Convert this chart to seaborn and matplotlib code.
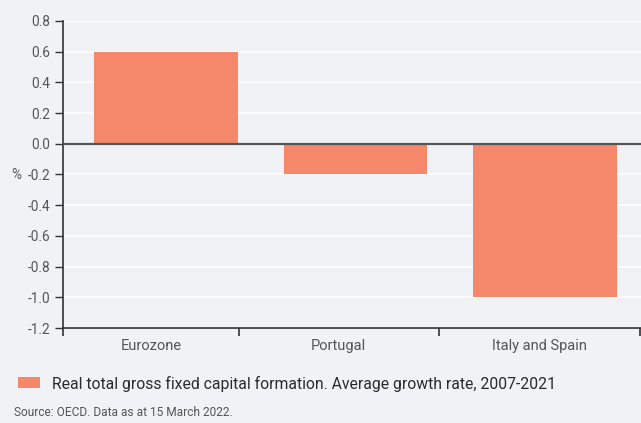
import matplotlib
matplotlib.use("Agg")
import matplotlib.pyplot as plt
import seaborn as sns
import pandas as pd

categories = ["Eurozone", "Portugal", "Italy and Spain"]
growth = [0.6, -0.2, -1.0]
y_ticks = [0.8, 0.6, 0.4, 0.2, 0.0, -0.2, -0.4, -0.6, -0.8, -1.0, -1.2]
series_label = "Real total gross fixed capital formation. Average growth rate, 2007-2021"
source_text = "Source: OECD. Data as at 15 March 2022."

BG = "#f0f2f5"
BAR = "#f5876a"
INK = "#333333"
TXT = "#555555"

sns.set_theme(style="white")
plt.rcParams["font.family"] = ["Roboto", "DejaVu Sans"]

df = pd.DataFrame({"region": categories, "value": growth})

fig = plt.figure(figsize=(6.41, 4.23), dpi=100, facecolor=BG)
ax = fig.add_axes([63 / 641, 95 / 423, 578 / 641, 307 / 423], facecolor=BG)

sns.barplot(data=df, x="region", y="value", color=BAR, width=0.76,
            saturation=1, linewidth=0, edgecolor=BAR, ax=ax, zorder=3)

ax.set_ylim(-1.2, 0.8)
ax.set_xlim(-0.544, 2.507)
ax.set_yticks(y_ticks)
ax.set_yticklabels([f"{v:.1f}" for v in y_ticks], fontsize=9.8, color=TXT)
ax.yaxis.grid(True, color="white", linewidth=1.2, zorder=0)
ax.set_axisbelow(True)
ax.tick_params(axis="y", length=6, width=1, color=INK, pad=3, left=True)

# category labels centred in their bands, separator ticks between bands
ax.set_xticks([-0.08, 0.91, 1.97])
ax.set_xticklabels(categories, fontsize=10.5, color=TXT)
ax.tick_params(axis="x", length=0, pad=8)
ax.set_xticks([-0.544, 0.385, 1.44, 2.5], minor=True)
ax.tick_params(axis="x", which="minor", length=6, width=1.2, color=INK, bottom=True)
ax.set_xlabel("")
ax.set_ylabel("")

for side in ["top", "right"]:
    ax.spines[side].set_visible(False)
for side in ["left", "bottom"]:
    ax.spines[side].set_color(INK)
    ax.spines[side].set_linewidth(1.2)

ax.axhline(0, color="#555555", linewidth=1.6, zorder=4)

ax.text(-0.072, -0.2, "%", transform=ax.get_yaxis_transform(),
        ha="right", va="center", fontsize=9.8, color=TXT)

# legend row and source note
fig.patches.append(plt.Rectangle((18 / 641, 1 - 388 / 423), 22 / 641, 11 / 423,
                                 transform=fig.transFigure, facecolor=BAR,
                                 edgecolor="none"))
fig.text(52 / 641, 1 - 384 / 423, series_label, ha="left", va="center",
         fontsize=11.3, color="#2a2a2a")
fig.text(14 / 641, 1 - 412 / 423, source_text, ha="left", va="center",
         fontsize=8.6, color=TXT)

fig.savefig("out.png", dpi=100, facecolor=BG)
